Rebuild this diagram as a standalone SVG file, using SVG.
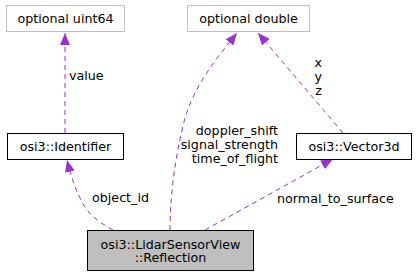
<svg xmlns="http://www.w3.org/2000/svg" width="416" height="277" viewBox="0 0 416 277">
  <defs>
    <marker id="arrow" viewBox="0 0 12 10" refX="12" refY="5" markerWidth="12" markerHeight="10" markerUnits="userSpaceOnUse" orient="auto">
      <path d="M0,0 L12,5 L0,10 Z" fill="#9a32cd"/>
    </marker>
  </defs>
  <style>
    text { font-family: "DejaVu Sans", "Liberation Sans", sans-serif; font-size: 12.7px; fill: #000; }
    .box { fill: #fff; stroke: #000; stroke-width: 1; }
    .ext { fill: #fff; stroke: #bfbfbf; stroke-width: 1; }
    .main { fill: #bfbfbf; stroke: #000; stroke-width: 1; }
    .edge { fill: none; stroke: #9a32cd; stroke-width: 1; stroke-dasharray: 5,4; marker-end: url(#arrow); }
    .c { text-anchor: middle; }
    .r { text-anchor: end; }
  </style>

  <!-- connectors -->
  <g id="edges">
    <path class="edge" d="M65,133 L65,33"/>
    <path class="edge" d="M113,230 C98,222 86,212 81,200 C76,190 72,180 67,160"/>
    <path class="edge" d="M170,230 C170,200 174,160 185,118 C195,85 215,60 237,33"/>
    <path class="edge" d="M343,133 L258,33"/>
    <path class="edge" d="M205,230 L333,159"/>
    <text x="69" y="80">value</text>
    <text x="92" y="202">object_id</text>
    <text class="r" x="278" y="135">doppler_shift</text>
    <text class="r" x="278" y="149">signal_strength</text>
    <text class="r" x="278" y="163">time_of_flight</text>
    <text class="r" x="322" y="67">x</text>
    <text class="r" x="322" y="81">y</text>
    <text class="r" x="322" y="95">z</text>
    <text x="277" y="203">normal_to_surface</text>
  </g>

  <g id="node-uint64">
    <rect class="ext" x="6.5" y="5.5" width="118" height="26"/>
    <text class="c" x="65.5" y="23">optional uint64</text>
  </g>
  <g id="node-double">
    <rect class="ext" x="187.5" y="5.5" width="122" height="26"/>
    <text class="c" x="248.5" y="23">optional double</text>
  </g>
  <g id="node-identifier">
    <rect class="box" x="7.5" y="133.5" width="116" height="26"/>
    <text class="c" x="65.5" y="151">osi3::Identifier</text>
  </g>
  <g id="node-vector3d">
    <rect class="box" x="296.5" y="133.5" width="115" height="26"/>
    <text class="c" x="354" y="151">osi3::Vector3d</text>
  </g>
  <g id="node-reflection">
    <rect class="main" x="87.5" y="230.5" width="166" height="40"/>
    <text class="c" x="170.5" y="248.5">osi3::LidarSensorView</text>
    <text class="c" x="170.5" y="262">::Reflection</text>
  </g>
</svg>
